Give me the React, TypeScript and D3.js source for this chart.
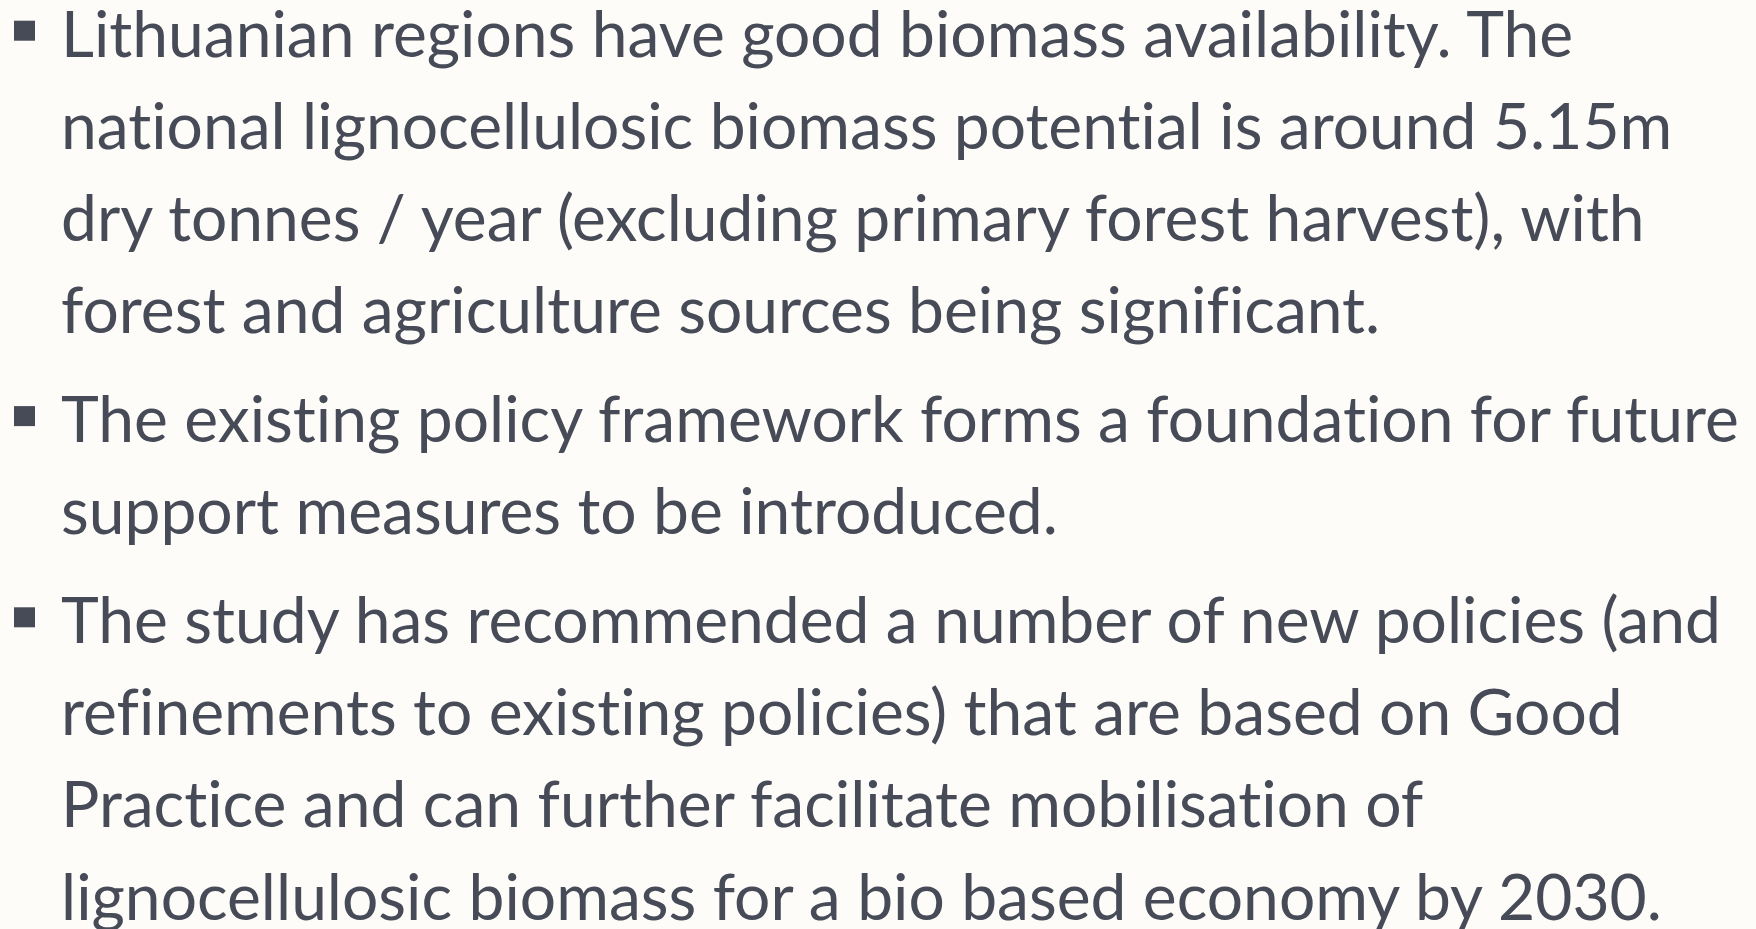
import React from 'react';
import * as d3 from 'd3';

// bullet paragraphs, each already broken into the lines shown on the slide
const bullet1 = [
  'Lithuanian regions have good biomass availability. The',
  'national lignocellulosic biomass potential is around 5.15m',
  'dry tonnes / year (excluding primary forest harvest), with',
  'forest and agriculture sources being significant.',
];
const bullet2 = [
  'The existing policy framework forms a foundation for future',
  'support measures to be introduced.',
];
const bullet3 = [
  'The study has recommended a number of new policies (and',
  'refinements to existing policies) that are based on Good',
  'Practice and can further facilitate mobilisation of',
  'lignocellulosic biomass for a bio based economy by 2030.',
];
const bullets = [bullet1, bullet2, bullet3];

const W = 1756;
const H = 929;
const textColor = '#464b57';
const bg = '#fdfcf8';
const fontSize = 63;
const stretch = 1.018; // Lato runs a bit narrower than the slide's font

export default function App() {
  const lines: { text: string; idx: number; para: number; first: boolean }[] = [];
  let idx = 0;
  bullets.forEach((b, p) => {
    b.forEach((t, j) => {
      lines.push({ text: t, idx, para: p, first: j === 0 });
      idx++;
    });
  });

  // baseline of a line from its index, plus paragraph spacing
  const y = d3.scaleLinear().domain([0, 1]).range([56.7, 148.8]);
  const paraGap = 17;
  const baseline = (l: { idx: number; para: number }) => y(l.idx) + l.para * paraGap;

  return (
    <div>
      <style>{'body{margin:0;}'}</style>
      <svg width={W} height={H} style={{ display: 'block', background: bg }}>
        <rect x={0} y={0} width={W} height={H} fill={bg} />
        {lines.filter(l => l.first).map((l, i) => (
          <rect key={'b' + i} x={14} y={baseline(l) - 36} width={21} height={20} fill={textColor} />
        ))}
        <g transform={`translate(61,0) scale(${stretch},1)`}>
          {lines.map((l, i) => (
            <text
              key={i}
              x={0}
              y={baseline(l)}
              fill={textColor}
              style={{
                fontFamily: 'Lato, "Open Sans", sans-serif',
                fontSize: fontSize + 'px',
                fontVariantLigatures: 'none',
              }}
            >
              {l.text}
            </text>
          ))}
        </g>
      </svg>
    </div>
  );
}
